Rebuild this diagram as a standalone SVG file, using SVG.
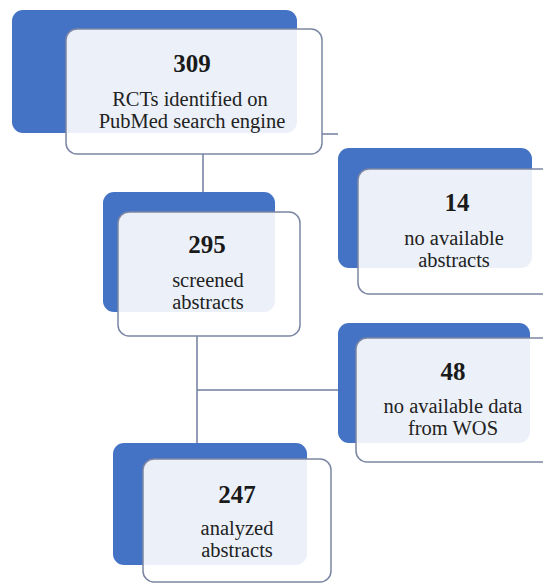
<svg xmlns="http://www.w3.org/2000/svg" width="543" height="585" viewBox="0 0 543 585">
<style>
.back{fill:#4472c4;}
.card{fill:#ffffff;fill-opacity:0.9;stroke:#7b86a3;stroke-width:1.5;}
text{font-family:"Liberation Serif","Times New Roman",serif;text-anchor:middle;}
.num{font-weight:bold;font-size:25px;fill:#1a1a1a;}
.lbl{font-size:20.5px;fill:#222;}
.conn{stroke:#6f7c9e;stroke-width:1.5;fill:none;}
</style>
<rect width="543" height="585" fill="#ffffff"/>
<g id="connectors">
<line class="conn" x1="203" y1="154" x2="203" y2="192"/>
<line class="conn" x1="322" y1="134" x2="338" y2="134"/>
<line class="conn" x1="197" y1="336" x2="197" y2="443"/>
<line class="conn" x1="197" y1="390" x2="338" y2="390"/>
</g>
<g id="node-309">
<rect class="back" x="12" y="10" width="285" height="123" rx="11"/>
<rect class="card" x="66" y="29" width="256" height="125" rx="11"/>
<text class="num" x="192" y="72">309</text>
<text class="lbl" x="190" y="106" font-family="Liberation Serif, serif">RCTs identified on</text>
<text class="lbl" x="192" y="128" font-family="Liberation Serif, serif">PubMed search engine</text>
</g>
<g id="node-14">
<rect class="back" x="338" y="148" width="194" height="120" rx="11"/>
<rect class="card" x="358" y="169" width="210" height="125" rx="11"/>
<text class="num" x="457" y="211">14</text>
<text class="lbl" x="454" y="245" font-family="Liberation Serif, serif">no available</text>
<text class="lbl" x="454" y="267" font-family="Liberation Serif, serif">abstracts</text>
</g>
<g id="node-295">
<rect class="back" x="103" y="192" width="172" height="120" rx="11"/>
<rect class="card" x="118" y="212" width="182" height="124" rx="11"/>
<text class="num" x="207" y="253">295</text>
<text class="lbl" x="208" y="287" font-family="Liberation Serif, serif">screened</text>
<text class="lbl" x="208" y="309" font-family="Liberation Serif, serif">abstracts</text>
</g>
<g id="node-48">
<rect class="back" x="338" y="323" width="192" height="120" rx="11"/>
<rect class="card" x="356" y="338" width="212" height="124" rx="11"/>
<text class="num" x="453" y="380">48</text>
<text class="lbl" x="453" y="413" font-family="Liberation Serif, serif">no available data</text>
<text class="lbl" x="453" y="435" font-family="Liberation Serif, serif">from WOS</text>
</g>
<g id="node-247">
<rect class="back" x="113" y="443" width="194" height="122" rx="11"/>
<rect class="card" x="143" y="459" width="188" height="123" rx="11"/>
<text class="num" x="237" y="503">247</text>
<text class="lbl" x="237" y="535" font-family="Liberation Serif, serif">analyzed</text>
<text class="lbl" x="237" y="557" font-family="Liberation Serif, serif">abstracts</text>
</g>
</svg>
